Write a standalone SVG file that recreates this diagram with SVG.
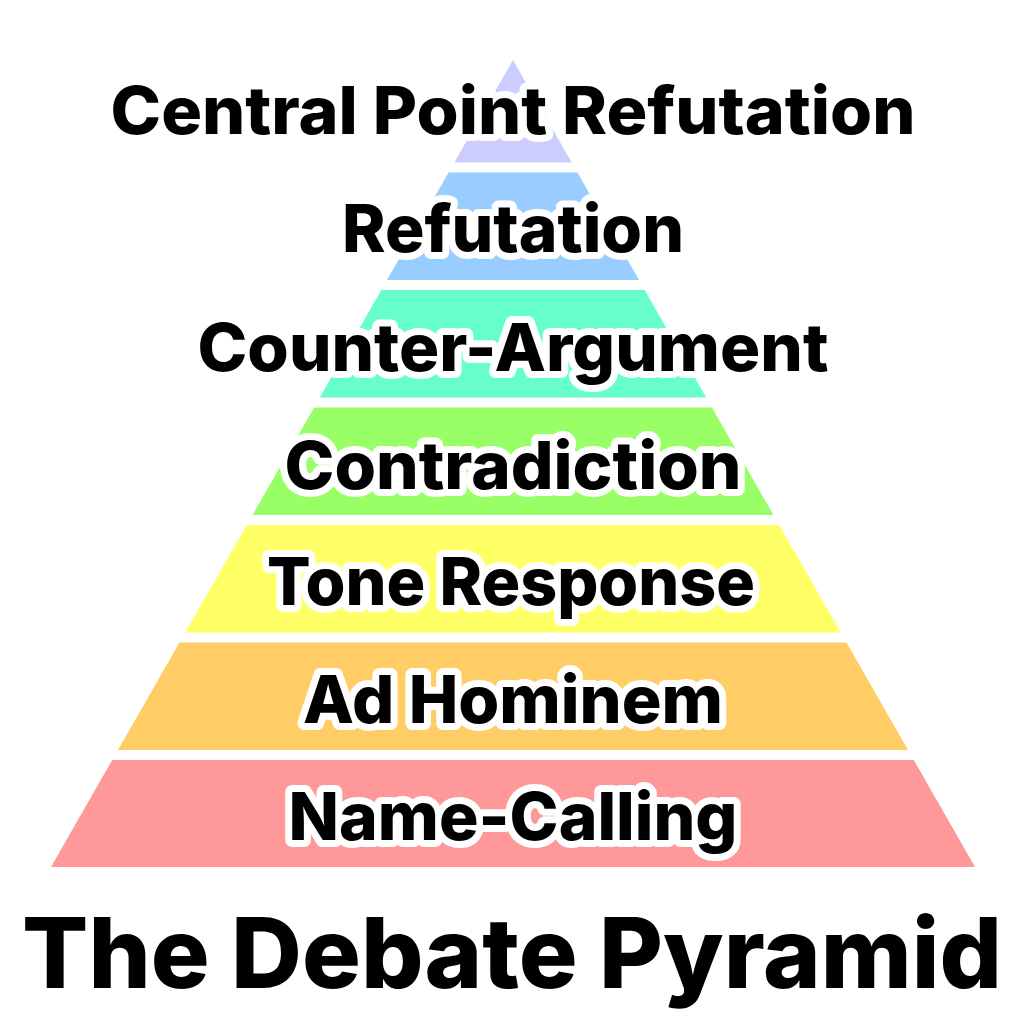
<svg xmlns="http://www.w3.org/2000/svg" width="1024" height="1025" viewBox="0 0 1024 1025">
  <style>
    .lbl { font-family: Inter, "Noto Sans", "Liberation Sans", sans-serif; font-weight: 800; font-size: 66px; fill: #000; stroke: #fff; stroke-width: 14px; stroke-linejoin: round; paint-order: stroke fill; text-anchor: middle; }
    .title { font-family: Inter, "Noto Sans", "Liberation Sans", sans-serif; font-weight: 800; font-size: 98px; fill: #000; text-anchor: middle; }
  </style>
  <rect width="1024" height="1025" fill="#fff"/>
  <g id="connectors"/>
  <g id="layer-name-calling">
    <polygon points="112.2,760 913.8,760 975,867 51,867" fill="#FF9999"/>
  </g>
  <g id="layer-ad-hominem">
    <polygon points="179.5,642.5 846.5,642.5 908,750 118,750" fill="#FFCC66"/>
  </g>
  <g id="layer-tone-response">
    <polygon points="246.8,525 779.2,525 840.8,632.5 185.2,632.5" fill="#FFFF66"/>
  </g>
  <g id="layer-contradiction">
    <polygon points="314.1,407.5 711.9,407.5 773.5,515 252.5,515" fill="#99FF66"/>
  </g>
  <g id="layer-counter-argument">
    <polygon points="381.3,290 644.7,290 706.2,397.5 319.8,397.5" fill="#66FFCC"/>
  </g>
  <g id="layer-refutation">
    <polygon points="448.6,172.5 577.4,172.5 639,280 387,280" fill="#99CCFF"/>
  </g>
  <g id="layer-central-point-refutation">
    <polygon points="513,60 571.7,162.5 454.3,162.5" fill="#CCCCFF"/>
  </g>
  <g id="labels">
    <text class="lbl" x="513" y="134" textLength="805" lengthAdjust="spacingAndGlyphs">Central Point Refutation</text>
    <text class="lbl" x="513" y="252" textLength="342" lengthAdjust="spacingAndGlyphs">Refutation</text>
    <text class="lbl" x="513" y="371" textLength="631" lengthAdjust="spacingAndGlyphs">Counter-Argument</text>
    <text class="lbl" x="513" y="489" textLength="457" lengthAdjust="spacingAndGlyphs">Contradiction</text>
    <text class="lbl" x="511" y="605" textLength="488" lengthAdjust="spacingAndGlyphs">Tone Response</text>
    <text class="lbl" x="513" y="723" textLength="420" lengthAdjust="spacingAndGlyphs">Ad Hominem</text>
    <text class="lbl" x="513" y="840" textLength="449" lengthAdjust="spacingAndGlyphs">Name-Calling</text>
  </g>
  <g id="title">
    <text class="title" x="512" y="988" textLength="980" lengthAdjust="spacingAndGlyphs">The Debate Pyramid</text>
  </g>
</svg>
